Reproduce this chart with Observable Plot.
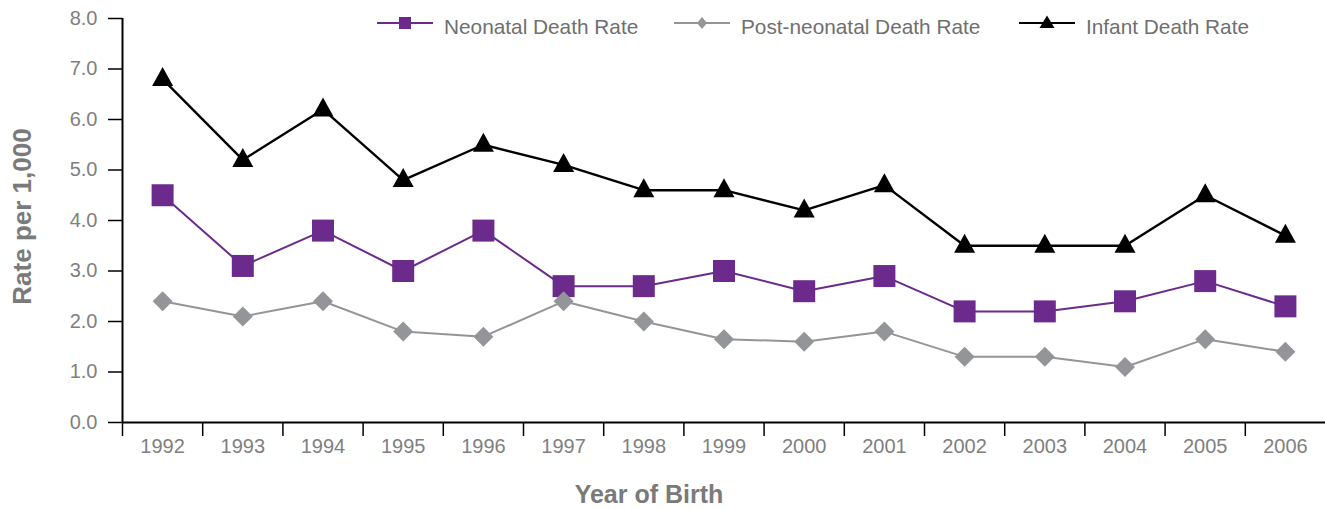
<!DOCTYPE html>
<html>
<head>
<meta charset="utf-8">
<script src="https://cdn.jsdelivr.net/npm/d3@7"></script>
<script src="https://cdn.jsdelivr.net/npm/@observablehq/plot@0.6"></script>
<style>
  body { margin: 0; background: #fff; }
  #wrap { position: relative; width: 1325px; height: 509px; font-family: "Liberation Sans", Arial, sans-serif; }
  #legend { position: absolute; top: 0; left: 0; width: 1325px; height: 40px; pointer-events: none; }
  .item { position: absolute; top: 11px; height: 24px; display: flex; align-items: center; white-space: nowrap; }
  .item svg { display: block; }
  .item span { font-size: 20.8px; color: #6f6f6f; margin-left: 11px; position: relative; top: 4px; line-height: 24px; }
</style>
</head>
<body>
<div id="wrap"></div>
<script>
// ---- data ----
const years = [1992, 1993, 1994, 1995, 1996, 1997, 1998, 1999, 2000, 2001, 2002, 2003, 2004, 2005, 2006];
const neonatal = [4.5, 3.1, 3.8, 3.0, 3.8, 2.7, 2.7, 3.0, 2.6, 2.9, 2.2, 2.2, 2.4, 2.8, 2.3];
const postNeonatal = [2.4, 2.1, 2.4, 1.8, 1.7, 2.4, 2.0, 1.65, 1.6, 1.8, 1.3, 1.3, 1.1, 1.65, 1.4];
const infant = [6.8, 5.2, 6.2, 4.8, 5.5, 5.1, 4.6, 4.6, 4.2, 4.7, 3.5, 3.5, 3.5, 4.5, 3.7];
const seriesNames = ["Neonatal Death Rate", "Post-neonatal Death Rate", "Infant Death Rate"];
const yTicks = [0, 1, 2, 3, 4, 5, 6, 7, 8];
const yTitle = "Rate per 1,000";
const xTitle = "Year of Birth";

// ---- styles ----
const colors = ["#6c2a8c", "#939598", "#000000"];
const symSquare = { draw(ctx) { ctx.rect(-11, -11, 22, 22); } };
const symDiamond = { draw(ctx) { ctx.moveTo(0, -10); ctx.lineTo(10, 0); ctx.lineTo(0, 10); ctx.lineTo(-10, 0); ctx.closePath(); } };
const symTriangle = { draw(ctx) { ctx.moveTo(0, -12); ctx.lineTo(10.5, 7); ctx.lineTo(-10.5, 7); ctx.closePath(); } };
const symbols = [symSquare, symDiamond, symTriangle];
const lineWidths = [2, 2, 2.4];

const valuesBySeries = [neonatal, postNeonatal, infant];
const rows = [];
seriesNames.forEach((s, k) => years.forEach((yr, i) => rows.push({ series: s, year: yr, value: valuesBySeries[k][i] })));

const x0 = years[0] - 0.5, x1 = years[years.length - 1] + 0.5;
const bounds = years.map(y => y - 0.5); // band separators

const seriesMarks = seriesNames.flatMap((s, k) => {
  const d = rows.filter(r => r.series === s);
  return [
    Plot.line(d, { x: "year", y: "value", stroke: colors[k], strokeWidth: lineWidths[k] }),
    Plot.dot(d, { x: "year", y: "value", symbol: symbols[k], r: 10, fill: colors[k], stroke: "none" })
  ];
});

const chart = Plot.plot({
  width: 1325,
  height: 509,
  marginLeft: 122,
  marginRight: 0,
  marginTop: 18,
  marginBottom: 87,
  style: { fontFamily: "'Liberation Sans', Arial, sans-serif", fontSize: "20px", color: "#7f7f7f", background: "#fff", overflow: "visible" },
  x: { domain: [x0, x1], axis: null },
  y: { domain: [0, 8], axis: null },
  marks: [
    Plot.axisY({ ticks: yTicks, tickSize: 14, tickPadding: 11, tickFormat: d3.format(".1f"), stroke: "#000", strokeWidth: 1.5, fontSize: 20, label: null }),
    Plot.axisX({ ticks: bounds, tickSize: 14, tickFormat: () => "", stroke: "#000", strokeWidth: 1.5, label: null }),
    Plot.axisX({ ticks: years, tickSize: 0, tickPadding: 16, tickFormat: d => String(d), fontSize: 20, label: null }),
    Plot.ruleY([0], { stroke: "#000", strokeWidth: 2 }),
    Plot.ruleX([x0], { stroke: "#000", strokeWidth: 2 }),
    Plot.text([yTitle], { text: d => d, frameAnchor: "left", textAnchor: "middle", lineAnchor: "middle", dx: -100, dy: -4, rotate: -90, fontSize: 26, fontWeight: "bold", fill: "#7a7a7a" }),
    Plot.text([xTitle], { text: d => d, frameAnchor: "bottom", textAnchor: "middle", lineAnchor: "middle", dx: -75, dy: 72, fontSize: 25, fontWeight: "bold", fill: "#7a7a7a", letterSpacing: 0.8 }),
    ...seriesMarks
  ]
});

const wrap = document.getElementById("wrap");
wrap.appendChild(chart);

// ---- legend (overlay on top of plot area) ----
const legendLefts = [377, 674, 1019];
const legendSymbols = [
  (c) => `<rect x="22" y="6" width="12" height="12" fill="${c}"/>`,
  (c) => `<path d="M28,6L33,12L28,18L23,12Z" fill="${c}"/>`,
  (c) => `<path d="M28,4.5L35.5,17L20.5,17Z" fill="${c}"/>`
];
const legend = document.createElement("div");
legend.id = "legend";
seriesNames.forEach((s, k) => {
  const item = document.createElement("div");
  item.className = "item";
  item.style.left = legendLefts[k] + "px";
  item.innerHTML = `<svg width="56" height="24"><line x1="0" x2="56" y1="12" y2="12" stroke="${colors[k]}" stroke-width="2"/>${legendSymbols[k](colors[k])}</svg><span>${s}</span>`;
  legend.appendChild(item);
});
wrap.appendChild(legend);
</script>
</body>
</html>
